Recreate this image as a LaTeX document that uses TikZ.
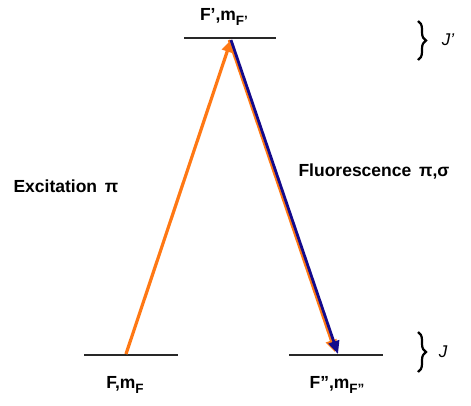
\documentclass[tikz,border=0pt]{standalone}
\usepackage{fontspec}
\setmainfont{Liberation Sans}
\usetikzlibrary{arrows.meta,decorations.pathreplacing}
\definecolor{exc}{RGB}{255,120,20}
\definecolor{flu}{RGB}{20,10,140}
\definecolor{lvl}{RGB}{40,40,40}
\tikzset{
  level/.style={draw=lvl,line width=2.8pt},
  lab/.style={font=\fontsize{17.5}{20}\selectfont\bfseries},
  exarrow/.style={draw=exc,line width=3.2pt,-{Triangle[length=12pt,width=11pt]}},
  flarrow/.style={draw=flu,line width=2.8pt,-{Triangle[length=13pt,width=11pt]}},
  brc/.style={draw=black,line width=2.2pt,decorate,decoration={brace,amplitude=8pt}}
}
\newcommand{\sbs}[1]{\raisebox{-0.45ex}{\fontsize{13.5}{14}\selectfont\bfseries #1}}
\begin{document}
\begin{tikzpicture}[x=1pt,y=-1pt]
\useasboundingbox (0,0) rectangle (471,405);
% levels
\coordinate (tl) at (184,38); \coordinate (tr) at (276,38);
\coordinate (bl1) at (84,355); \coordinate (br1) at (178,355);
\coordinate (bl2) at (289,355); \coordinate (br2) at (383,355);
\draw[level] (tl) -- (tr);
\draw[level] (bl1) -- (br1);
\draw[level] (bl2) -- (br2);
% arrow end points
\coordinate (top) at (231,40);
\coordinate (lo) at (126,354);
\coordinate (ro) at (338,354);
\coordinate (topS) at (229,40);
\coordinate (roS) at (335,352);
% arrows
\draw[exarrow] (lo) -- (top);
\draw[exarrow,line width=2.6pt] (topS) -- (roS);
\draw[flarrow] (top) -- (ro);
% labels
\node[lab] (ftop) at (224,17) {F',m\sbs{F'}};
\node[lab] (fleft) at (125,385) {F,m\sbs{F}};
\node[lab] (fright) at (337,385) {F'',m\sbs{F''}};
\node[lab,anchor=west] (exlab) at (10,186) {Excitation\, π};
\node[lab,anchor=west] (fllab) at (295,172) {Fluorescence\, π,σ};
% braces
\coordinate (b1a) at (418,21); \coordinate (b1b) at (418,60);
\coordinate (b2a) at (418,332); \coordinate (b2b) at (418,372);
\draw[brc] (b1a) -- (b1b);
\draw[brc] (b2a) -- (b2b);
\node[font=\fontsize{17}{18}\selectfont\itshape] (jp) at (448,40) {J'};
\node[font=\fontsize{17}{18}\selectfont\itshape] (j) at (443,352) {J};
\end{tikzpicture}
\end{document}
